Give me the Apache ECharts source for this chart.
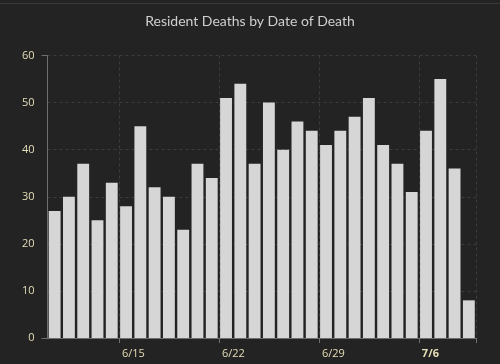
<!DOCTYPE html>
<html>
<head>
<meta charset="utf-8">
<script src="https://cdn.jsdelivr.net/npm/echarts@6/dist/echarts.min.js"></script>
<style>
html,body{margin:0;padding:0;background:#232323;}
#wrap{position:relative;width:500px;height:364px;}
#c{width:500px;height:364px;}
#topline{position:absolute;left:0;top:3px;width:500px;height:1px;background:#3a3a3a;}
</style>
</head>
<body>
<div id="wrap"><div id="c"></div><div id="topline"></div></div>
<script>
var categories = ['6/10','6/11','6/12','6/13','6/14','6/15','6/16','6/17','6/18','6/19',
  '6/20','6/21','6/22','6/23','6/24','6/25','6/26','6/27','6/28','6/29',
  '6/30','7/1','7/2','7/3','7/4','7/5','7/6','7/7','7/8','7/9'];
var deaths = [27,30,37,25,33,28,45,32,30,23,
  37,34,51,54,37,50,40,46,44,41,
  44,47,51,41,37,31,44,55,36,8];
var tickLabels = ['6/15','6/22','6/29','7/6'];
var boldLabels = ['7/6'];
var yTicks = [0,10,20,30,40,50,60];

var labelColor = '#e6dfb8';
var font = 'Open Sans';
var chart = echarts.init(document.getElementById('c'));
chart.setOption({
  backgroundColor: '#232323',
  animation: false,
  title: {
    text: 'Resident Deaths by Date of Death',
    left: 'center', top: 9,
    textStyle: {color: '#cfcfcf', fontSize: 14, fontWeight: 'normal', fontFamily: 'Lato'}
  },
  grid: {left: 47.5, right: 24, top: 55.5, bottom: 26},
  xAxis: [{
    type: 'category',
    data: categories,
    boundaryGap: true,
    axisLine: {lineStyle: {color: '#6e6e6e', width: 1}},
    axisTick: {show: true, length: 5, alignWithLabel: false,
      interval: function (i, v) { return tickLabels.indexOf(v) >= 0; },
      lineStyle: {color: '#6e6e6e'}},
    axisLabel: {show: false},
    splitLine: {show: true,
      interval: function (i, v) { return tickLabels.indexOf(v) >= 0; },
      lineStyle: {color: '#3d3d3d', type: [3, 3]}}
  }, {
    type: 'value',
    position: 'bottom',
    min: 0, max: categories.length, interval: 1,
    axisLine: {show: false}, axisTick: {show: false}, splitLine: {show: false},
    axisLabel: {
      show: true, margin: 10, align: 'left', padding: [0, 0, 0, 3],
      color: labelColor, fontSize: 11, fontFamily: font,
      formatter: function (v) {
        var c = categories[v];
        if (tickLabels.indexOf(c) < 0) return '';
        return boldLabels.indexOf(c) >= 0 ? '{b|' + c + '}' : c;
      },
      rich: {b: {fontWeight: 'bold', color: labelColor, fontSize: 11, fontFamily: font}}
    }
  }],
  yAxis: [{
    type: 'value',
    min: yTicks[0], max: yTicks[yTicks.length - 1], interval: 10,
    axisLine: {show: true, lineStyle: {color: '#6e6e6e'}},
    axisTick: {show: false},
    axisLabel: {color: labelColor, fontSize: 11, fontFamily: font, margin: 13},
    splitLine: {show: true, lineStyle: {color: '#3d3d3d', type: [3, 3]}}
  }, {
    type: 'value', position: 'left',
    min: yTicks[0], max: yTicks[yTicks.length - 1], interval: 60,
    axisLine: {show: false},
    axisTick: {show: true, length: 6, lineStyle: {color: '#6e6e6e'}},
    axisLabel: {show: false},
    splitLine: {show: false}
  }],
  series: [{
    type: 'bar',
    data: deaths,
    xAxisIndex: 0, yAxisIndex: 0,
    barCategoryGap: '17%',
    itemStyle: {color: '#d6d6d6'}
  }]
});
</script>
</body>
</html>
